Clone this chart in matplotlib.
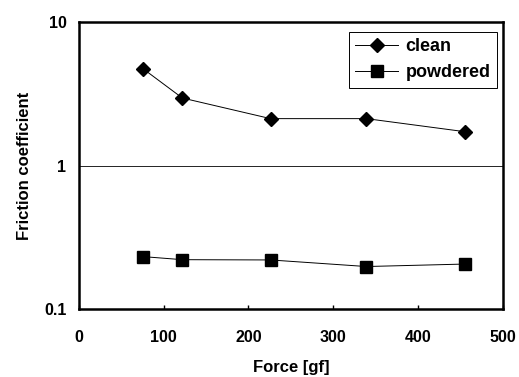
import matplotlib.pyplot as plt
from matplotlib.ticker import FixedLocator, NullLocator

plt.rcParams['font.family'] = ['Liberation Sans', 'DejaVu Sans']
plt.rcParams['font.weight'] = 'bold'

force_clean = [76, 122, 226, 339, 455]
mu_clean = [4.7, 2.95, 2.12, 2.12, 1.72]
force_powder = [76, 122, 226, 339, 455]
mu_powder = [0.232, 0.221, 0.220, 0.198, 0.206]

x_ticks = [0, 100, 200, 300, 400, 500]
y_ticks = [0.1, 1, 10]
y_labels = ['0.1', '1', '10']

fig = plt.figure(figsize=(5.19, 3.77), dpi=100)
ax = fig.add_axes([0.152, 0.180, 0.817, 0.762])

ax.plot(force_clean, mu_clean, '-', color='black', lw=0.7, marker='D',
        markersize=7.5, label='clean')
ax.plot(force_powder, mu_powder, '-', color='black', lw=0.7, marker='s',
        markersize=8, label='powdered')

ax.set_yscale('log')
ax.set_xlim(0, 500)
ax.set_ylim(0.1, 10)
ax.xaxis.set_major_locator(FixedLocator(x_ticks))
ax.yaxis.set_major_locator(FixedLocator(y_ticks))
ax.yaxis.set_minor_locator(NullLocator())
ax.set_yticklabels(y_labels)
ax.axhline(1, color='black', lw=0.6)

ax.tick_params(axis='x', direction='in', length=3, width=1, labelsize=11.5, pad=15)
ax.tick_params(axis='y', length=0, labelsize=11.5, pad=9)
for s in ax.spines.values():
    s.set_linewidth(1.8)

ax.set_xlabel('Force [gf]', fontsize=12, fontweight='bold', labelpad=11)
ax.set_ylabel('Friction coefficient', fontsize=12, fontweight='bold', labelpad=9)

leg = ax.legend(loc='upper right', fontsize=13, fancybox=False, framealpha=1,
                edgecolor='black', handlelength=2.4, borderpad=0.35,
                labelspacing=0.5, handletextpad=0.4, borderaxespad=0,
                bbox_to_anchor=(0.986, 0.965))
leg.get_frame().set_linewidth(0.7)

fig.savefig('out.png', dpi=100)
